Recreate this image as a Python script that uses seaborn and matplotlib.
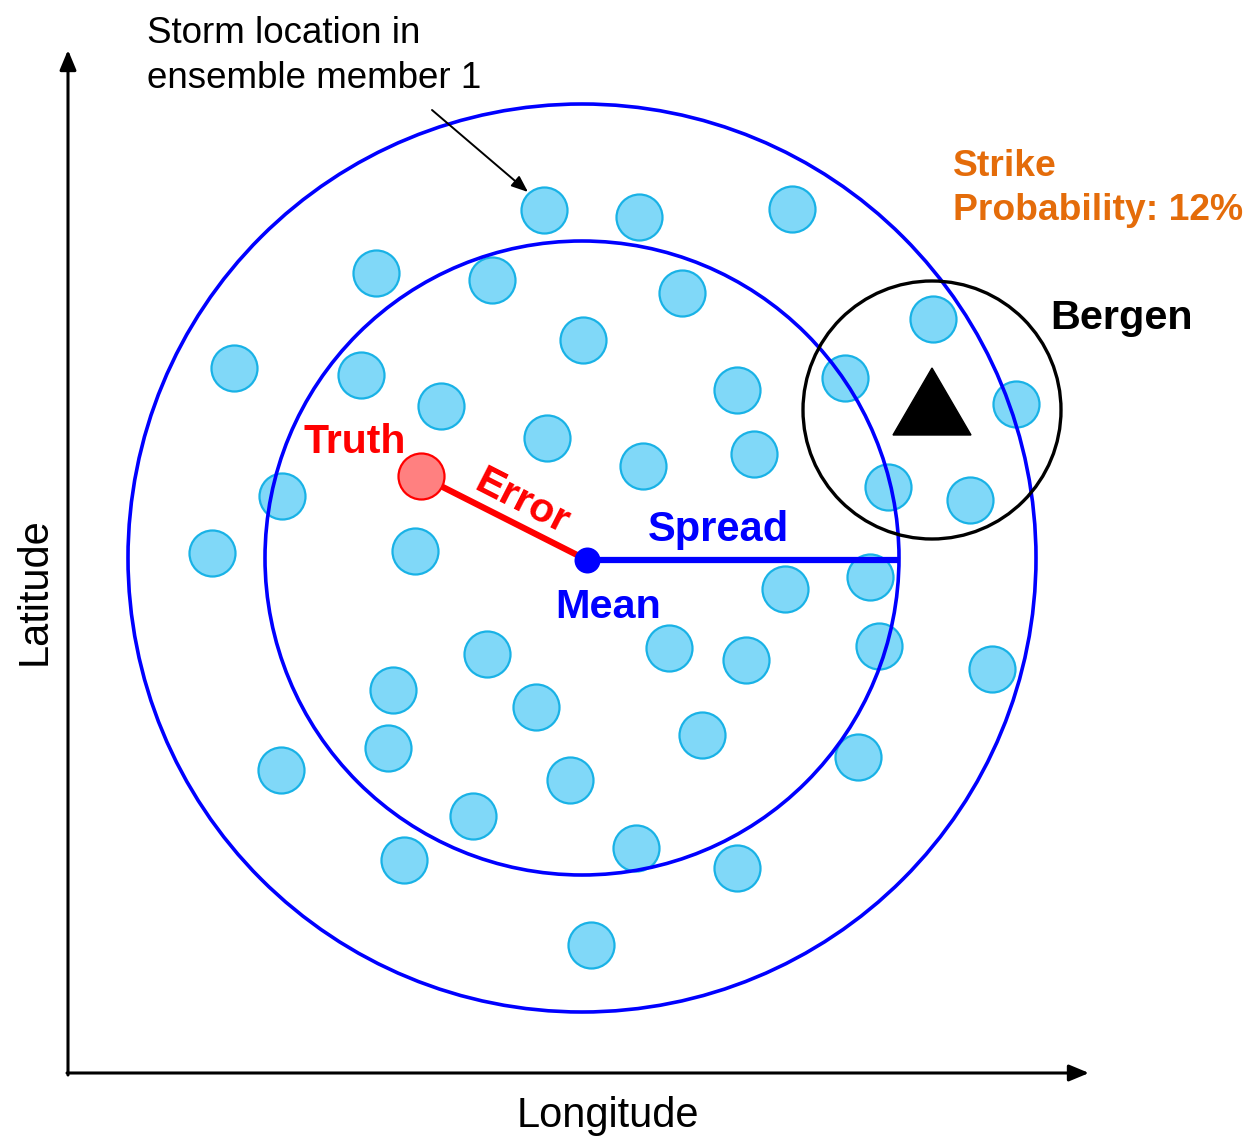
import seaborn as sns
import pandas as pd
import matplotlib.pyplot as plt
from matplotlib.patches import Circle, Polygon

# ensemble member storm positions (drawing units, y grows downwards)
member_lon = [544, 639, 792, 376, 492, 682, 583, 933, 234, 361, 441, 737, 845, 1016,
              547, 643, 754, 282, 888, 970, 212, 415, 870, 785, 487, 669, 746, 879,
              992, 393, 536, 702, 388, 281, 858, 570, 473, 636, 404, 737, 591]
member_lat = [210, 217, 209, 273, 280, 293, 340, 319, 368, 375, 406, 390, 378, 404,
              438, 466, 454, 496, 487, 500, 553, 551, 577, 589, 654, 648, 660, 646,
              669, 690, 707, 735, 748, 770, 757, 780, 816, 848, 860, 868, 945]

truth = (421, 476)
mean = (587, 560)
circle_center = (582, 558)
spread_radius = 317
outer_radius = 454
bergen = (932, 410)
bergen_radius = 129
strike_prob = 12

members = pd.DataFrame({"lon": member_lon, "lat": member_lat})

sns.set_style("white")
plt.rcParams['font.family'] = ['Liberation Sans', 'DejaVu Sans']
plt.rcParams['text.color'] = 'black'

fig = plt.figure(figsize=(12.48, 11.38), dpi=100)
ax = fig.add_axes([0, 0, 1, 1])
ax.set_xlim(0, 1248)
ax.set_ylim(1138, 0)
ax.axis('off')

# ensemble members
sns.scatterplot(data=members, x="lon", y="lat", s=1097, color="#80D8F8",
                edgecolor="#19B2E6", linewidth=1.6, ax=ax, zorder=2)

# spread circles
ax.add_patch(Circle(circle_center, outer_radius, fill=False, ec="#0000FF", lw=2.6, zorder=3))
ax.add_patch(Circle(circle_center, spread_radius, fill=False, ec="#0000FF", lw=2.6, zorder=3))

# Bergen
ax.add_patch(Circle(bergen, bergen_radius, fill=False, ec="black", lw=2.4, zorder=3))
ax.add_patch(Polygon([(893, 435), (971, 435), (932, 368)], closed=True,
                     fc="black", ec="black", zorder=4))

# error + spread lines
ax.plot([truth[0], mean[0]], [truth[1], mean[1]], color="#FF0000", lw=4.5, zorder=4,
        solid_capstyle='butt')
ax.plot([mean[0], circle_center[0] + spread_radius], [mean[1], mean[1]], color="#0000FF",
        lw=4.5, zorder=4, solid_capstyle='butt')

sns.scatterplot(x=[truth[0]], y=[truth[1]], s=1097, color="#FF8080", edgecolor="#FF0000",
                linewidth=1.6, ax=ax, zorder=5)
sns.scatterplot(x=[mean[0]], y=[mean[1]], s=350, color="#0000FF", edgecolor="#0000FF",
                linewidth=0, ax=ax, zorder=5)

# axes arrows
head = "-|>,head_length=1.2,head_width=0.5"
ax.annotate("", xy=(68, 50), xytext=(68, 1075),
            arrowprops=dict(arrowstyle=head, color="black", lw=2.2, shrinkA=0, shrinkB=0))
ax.annotate("", xy=(1089, 1073), xytext=(67, 1073),
            arrowprops=dict(arrowstyle=head, color="black", lw=2.2, shrinkA=0, shrinkB=0))

# member 1 pointer
ax.annotate("", xy=(528, 192), xytext=(432, 110),
            arrowprops=dict(arrowstyle="-|>,head_length=1.0,head_width=0.4", color="black",
                            lw=1.4, shrinkA=0, shrinkB=0))

# labels
ax.text(147, 43, "Storm location in", fontsize=26.5, va='baseline', ha='left')
ax.text(147, 88, "ensemble member 1", fontsize=26.5, va='baseline', ha='left')
ax.text(953, 176, "Strike", fontsize=26.8, fontweight='bold', color="#E46C0A", va='baseline')
ax.text(953, 220, f"Probability: {strike_prob}%", fontsize=26.8, fontweight='bold',
        color="#E46C0A", va='baseline')
ax.text(1050, 329, "Bergen", fontsize=29.8, fontweight='bold', va='baseline')
ax.text(303, 453, "Truth", fontsize=29.5, fontweight='bold', color="#FF0000", va='baseline')
ax.text(522, 502, "Error", fontsize=29.5, fontweight='bold', color="#FF0000", rotation=-27,
        ha='center', va='center', rotation_mode='anchor')
ax.text(648, 541, "Spread", fontsize=30, fontweight='bold', color="#0000FF", va='baseline')
ax.text(555, 618, "Mean", fontsize=29.8, fontweight='bold', color="#0000FF", va='baseline')
ax.text(35, 591, "Latitude", fontsize=30, rotation=90, ha='center', va='center')
ax.text(608, 1127, "Longitude", fontsize=30, ha='center', va='baseline')

fig.savefig("out.png", dpi=100)
